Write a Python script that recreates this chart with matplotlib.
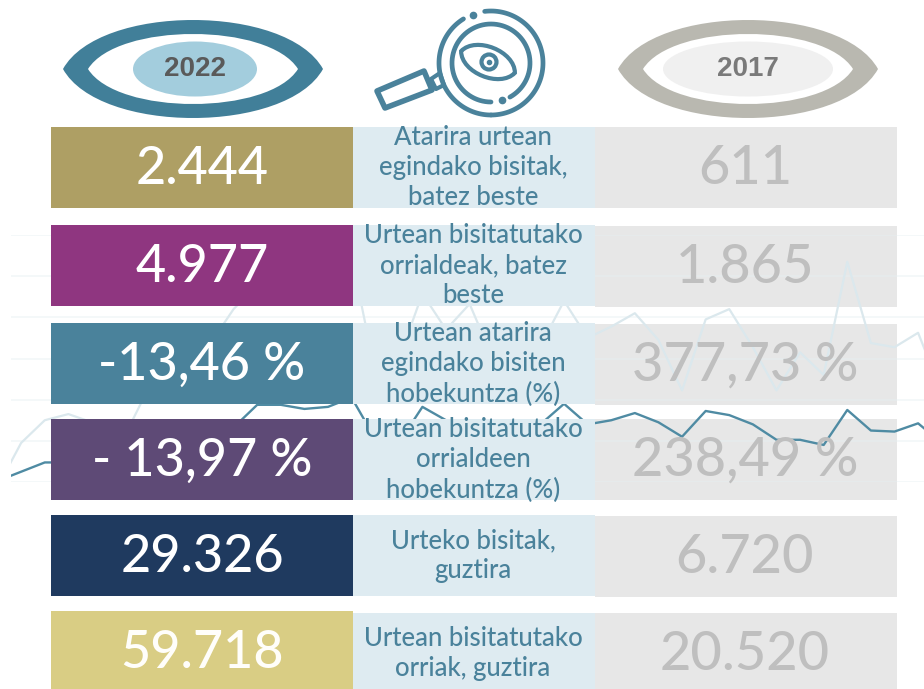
import numpy as np
import matplotlib
matplotlib.use("Agg")
import matplotlib.pyplot as plt
from matplotlib.patches import PathPatch, Ellipse, Polygon
from matplotlib.path import Path
from matplotlib.transforms import Affine2D

W, H = 924, 689

values_2022 = ["2.444", "4.977", "-13,46 %", "- 13,97 %", "29.326", "59.718"]
values_2017 = ["611", "1.865", "377,73 %", "238,49 %", "6.720", "20.520"]
labels = [
    "Atarira urtean\negindako bisitak,\nbatez beste",
    "Urtean bisitatutako\norrialdeak, batez\nbeste",
    "Urtean atarira\negindako bisiten\nhobekuntza (%)",
    "Urtean bisitatutako\norrialdeen\nhobekuntza (%)",
    "Urteko bisitak,\nguztira",
    "Urtean bisitatutako\norriak, guztira",
]
colors_2022 = ["#ae9f64", "#8f3680", "#4a829b", "#5e4a76", "#1f3a5f", "#d9cd84"]

# faded chart behind the table, one value per month
months = np.arange(-1, 40)
pages = [-5, 38, 60, 66, 58, 27, 73, 119, 138, 134, 168, 191, 177, 187, 177, 219, 107, 119, 183, 148,
         173, 119, 128, 132, 176, 140, 151, 164, 138, 89, 158, 168, 131, 89, 126, 104, 214, 135, 131, 145, 87]
visits = [1, 10, 19, 19, 19, 20, 23, 26, 31, 36, 53, 75, 75, 71, 73, 82, 42, 38, 73, 60,
          49, 41, 36, 56, 76, 56, 60, 67, 58, 44, 69, 65, 56, 41, 41, 36, 70, 50, 49, 57, 38]
grid_ticks = [0, 40, 80, 120, 160, 200, 240]

TEAL = "#4a829b"
row_tops = [127, 225, 323, 419, 515, 611]
mid_tops = [127, 225, 323, 419, 515, 613]
right_tops = [127, 226, 324, 419, 516, 613]
row_h = 81

plt.rcParams["font.family"] = ["Lato", "DejaVu Sans"]
fig = plt.figure(figsize=(W / 100, H / 100), dpi=100)


def pixel_axes(z):
    ax = fig.add_axes([0, 0, 1, 1], zorder=z)
    ax.set_xlim(0, W)
    ax.set_ylim(H, 0)
    ax.axis("off")
    ax.patch.set_alpha(0)
    return ax


def eye(ax, cx, cy, half_w, half_h, rot=0, **kw):
    # two curves meeting at the tips
    c = half_h / 0.75
    k = 0.72
    verts = [(cx - half_w, cy), (cx - half_w * k, cy - c), (cx + half_w * k, cy - c), (cx + half_w, cy),
             (cx + half_w * k, cy + c), (cx - half_w * k, cy + c), (cx - half_w, cy), (cx - half_w, cy)]
    codes = [Path.MOVETO] + [Path.CURVE4] * 6 + [Path.CLOSEPOLY]
    path = Path(verts, codes).transformed(Affine2D().rotate_deg_around(cx, cy, rot))
    ax.add_patch(PathPatch(path, **kw))


def arc(ax, cx, cy, r, a0, a1, lw=3.4):
    t = np.radians(np.linspace(a0, a1, 80))
    ax.plot(cx + r * np.cos(t), cy + r * np.sin(t), color=TEAL, lw=lw, solid_capstyle="round")


back = pixel_axes(1)
back.barh([t + row_h / 2 for t in right_tops], 302, left=595, height=row_h, color="#e7e7e7")

line_ax = fig.add_axes([11 / W, 1 - 482 / H, 913 / W, 247 / H], zorder=2)
line_ax.patch.set_alpha(0)
line_ax.set_xlim(-0.43, 38.25)
line_ax.set_ylim(0, 240)
line_ax.set_yticks(grid_ticks)
line_ax.grid(axis="y", color="#e6eff1", alpha=0.5, lw=1.2)
line_ax.tick_params(left=False, bottom=False, labelleft=False, labelbottom=False)
for s in line_ax.spines.values():
    s.set_visible(False)
line_ax.plot(months, pages, color="#dbe8ed", lw=1.6)
line_ax.plot(months, visits, color="#4f8ba3", lw=1.7)

front = pixel_axes(3)
front.barh([t + row_h / 2 for t in row_tops], 302, left=51, height=row_h, color=colors_2022)
front.barh([t + row_h / 2 for t in mid_tops], 242, left=353, height=row_h, color="#deebf1")

for i in range(6):
    front.text(202, row_tops[i] + row_h / 2 + 2, values_2022[i], color="#fffefa" if i == 5 else "white",
               fontsize=37.5, weight="medium", ha="center", va="center")
    front.text(745, right_tops[i] + row_h / 2 + 1, values_2017[i], color="#bfbfbf",
               fontsize=39, weight="medium", ha="center", va="center")
    front.text(473, mid_tops[i] + row_h / 2, labels[i], color=TEAL, fontsize=18.5, weight="medium",
               ha="center", va="center", linespacing=1.27)

# eye badges
eye(front, 193, 69, 130, 49, color="#417f99", lw=0)
eye(front, 193, 69, 105, 35, color="white", lw=0)
front.add_patch(Ellipse((195, 69), 124, 55, color="#a3cddd", lw=0))
front.text(195, 69, "2022", family="Liberation Sans", weight="bold", fontsize=20, color="#5a5a5a",
           ha="center", va="center")

eye(front, 748, 69, 130, 49, color="#b9b8b0", lw=0)
eye(front, 748, 69, 105, 35, color="white", lw=0)
front.add_patch(Ellipse((748, 69), 170, 55, color="#f0f0f0", lw=0))
front.text(748, 69, "2017", family="Liberation Sans", weight="bold", fontsize=20, color="#7a7a7a",
           ha="center", va="center")

# magnifier icon
arc(front, 491, 63, 52, -97, 90)
arc(front, 491, 63, 52, 90, 238)
arc(front, 491, 63, 39, 90, 421)
front.plot([473, 502], [15, 100], ls="none", marker="o", ms=4.5, color=TEAL)
eye(front, 488, 62, 29, 15, rot=22, fill=False, ec=TEAL, lw=3)
front.add_patch(Ellipse((489, 62), 15, 15, fill=False, ec=TEAL, lw=3))
front.plot([489], [62], marker="o", ms=3, color=TEAL)
front.add_patch(Polygon([(377, 91), (424, 71), (432, 90), (385, 108)], fill=False, ec=TEAL, lw=4, joinstyle="round"))
front.add_patch(Polygon([(431, 79), (440, 73), (444, 85), (436, 89)], fill=False, ec=TEAL, lw=3, joinstyle="round"))

fig.savefig("out.png", dpi=100)
